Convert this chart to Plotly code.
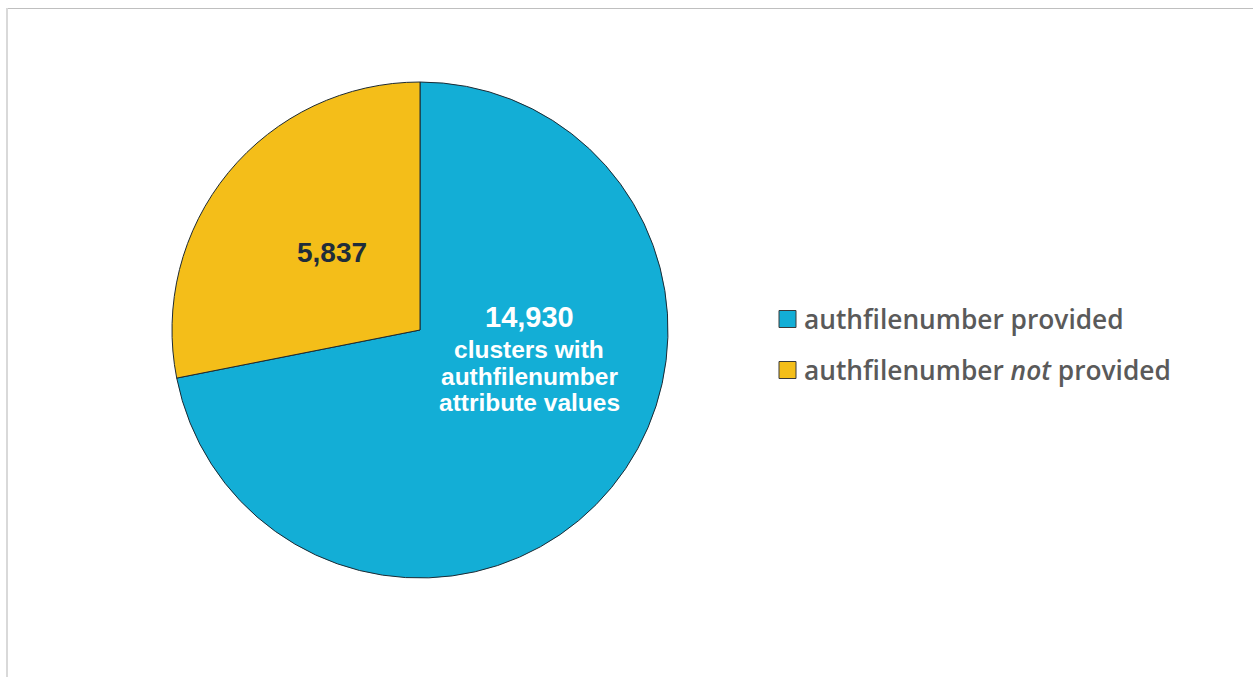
import plotly.graph_objects as go

# Data
labels = ["authfilenumber provided", "authfilenumber <i>not</i> provided"]
values = [14930, 5837]
colors = ["#13AED6", "#F4BE19"]
blue_caption = ["clusters with", "authfilenumber", "attribute values"]

W, H = 1253, 677


def px(x):
    return x / W


def py(y):
    return 1 - y / H


# Pie geometry (pixels): centre and radius
cx, cy, r = 420, 330, 248

fig = go.Figure()
fig.add_trace(go.Pie(
    labels=labels,
    values=values,
    marker=dict(colors=colors, line=dict(color="#1d2a33", width=1)),
    sort=False,
    direction="clockwise",
    rotation=0,
    textinfo="none",
    hoverinfo="label+value",
    showlegend=False,
    domain=dict(x=[px(cx - r), px(cx + r)], y=[py(cy + r), py(cy - r)]),
))

annotations = []
# Value label for the blue slice plus its caption
annotations.append(dict(
    x=px(529), y=py(317), xref="paper", yref="paper",
    text=f"{values[0]:,}", showarrow=False, xanchor="center", yanchor="middle",
    font=dict(family="Liberation Sans, Arial, sans-serif", size=29, color="white", weight="bold"),
))
for i, line in enumerate(blue_caption):
    annotations.append(dict(
        x=px(529), y=py(349.6 + 26.5 * i), xref="paper", yref="paper",
        text=line, showarrow=False, xanchor="center", yanchor="middle",
        font=dict(family="Liberation Sans, Arial, sans-serif", size=24.5, color="white", weight="bold"),
    ))
# Value label for the yellow slice
annotations.append(dict(
    x=px(332), y=py(252), xref="paper", yref="paper",
    text=f"{values[1]:,}", showarrow=False, xanchor="center", yanchor="middle",
    font=dict(family="Liberation Sans, Arial, sans-serif", size=28, color="#1f2d3a", weight="bold"),
))

# Legend: coloured squares with labels
shapes = []
legend_rows = [319, 370]
for lab, col, yc in zip(labels, colors, legend_rows):
    shapes.append(dict(
        type="rect", xref="paper", yref="paper",
        x0=px(779), x1=px(796), y0=py(yc + 8.5), y1=py(yc - 8.5),
        fillcolor=col, line=dict(color="#3a3a3a", width=1),
    ))
    annotations.append(dict(
        x=px(802), y=py(yc), xref="paper", yref="paper",
        text=lab, showarrow=False, xanchor="left", yanchor="middle",
        font=dict(family="Open Sans, sans-serif", size=26.3, color="#5a5a5a", weight=600),
    ))

# Frame lines along the top and left edges
shapes.append(dict(type="line", xref="paper", yref="paper",
                   x0=px(6), x1=1, y0=py(8.5), y1=py(8.5),
                   line=dict(color="#bfbfbf", width=1)))
shapes.append(dict(type="line", xref="paper", yref="paper",
                   x0=px(7), x1=px(7), y0=py(8), y1=0,
                   line=dict(color="#d9d9d9", width=2)))

fig.update_layout(
    width=W, height=H,
    margin=dict(l=0, r=0, t=0, b=0),
    paper_bgcolor="white",
    plot_bgcolor="white",
    annotations=annotations,
    shapes=shapes,
)

fig.write_html("out.html")
